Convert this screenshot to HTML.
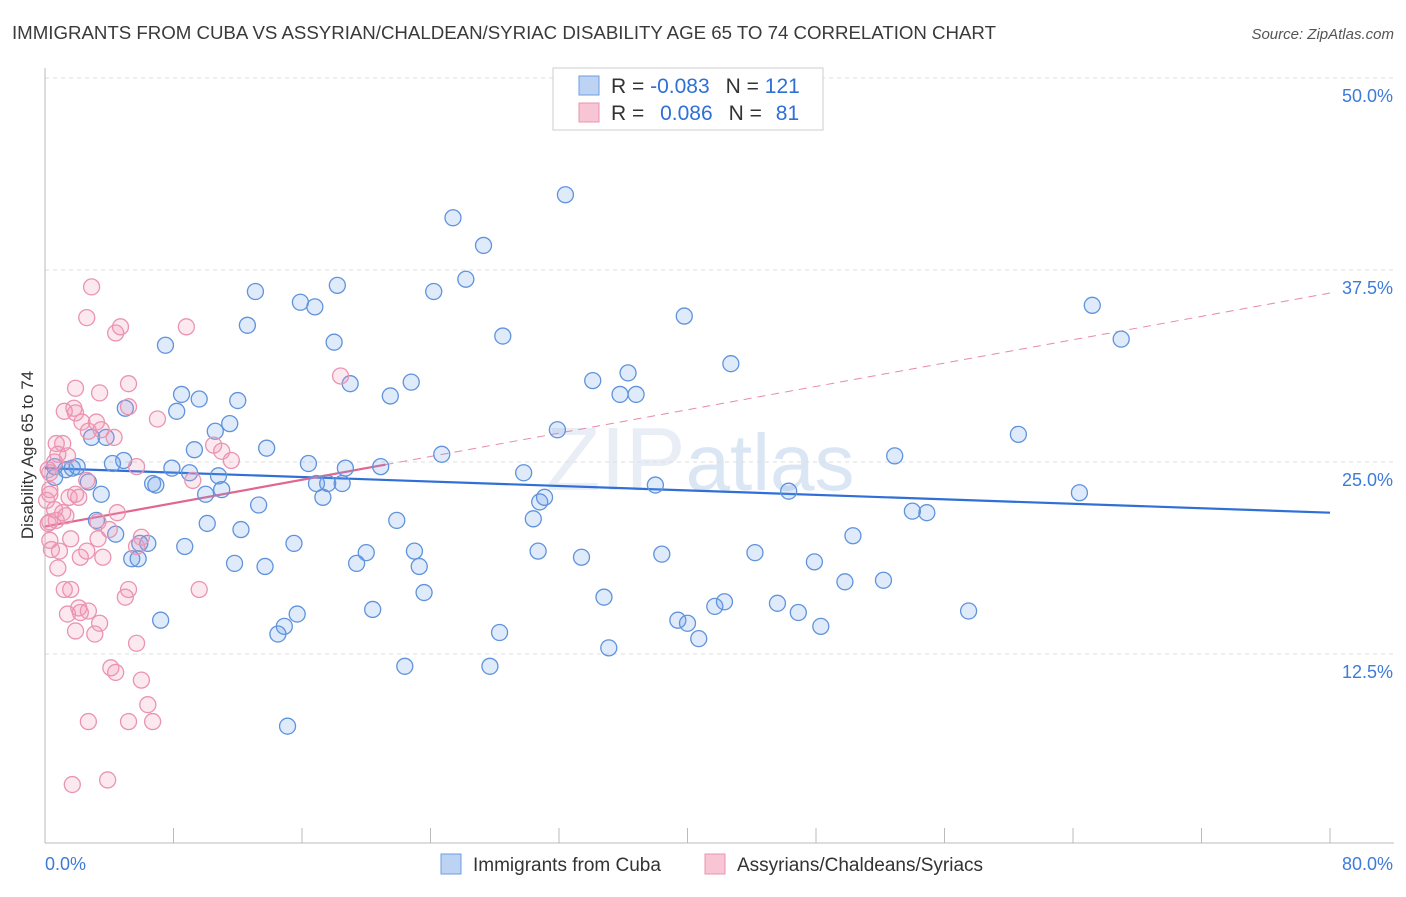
<!DOCTYPE html>
<html><head><meta charset="utf-8"><style>
body{margin:0;background:#fff;font-family:"Liberation Sans",sans-serif;}
svg text{font-family:"Liberation Sans",sans-serif;}
</style></head><body>
<svg id="chart" width="1406" height="892" xmlns="http://www.w3.org/2000/svg">
<text x="12" y="39" font-size="18.7" fill="#3a3a3a" textLength="984">IMMIGRANTS FROM CUBA VS ASSYRIAN/CHALDEAN/SYRIAC DISABILITY AGE 65 TO 74 CORRELATION CHART</text>
<text x="1394" y="39" font-size="15" fill="#555" text-anchor="end" font-style="italic">Source: ZipAtlas.com</text>
<text x="700" y="490" font-size="90" fill="#e9eef6" text-anchor="middle" font-family="Liberation Serif">ZIP<tspan fill="#dbe6f5" font-family="Liberation Sans" font-size="80">atlas</tspan></text>
<g id="grid"></g>
<g id="axes"></g>
<g id="trends"></g>
<g id="pts"></g>
<text transform="translate(33,455) rotate(-90)" font-size="17" fill="#333" text-anchor="middle">Disability Age 65 to 74</text>
<g>
<rect x="553" y="68" width="270" height="62" fill="#fff" stroke="#ccc"/>
<rect x="579" y="76" width="20" height="19" fill="#bcd3f3" stroke="#6e9ee0"/>
<rect x="579" y="103" width="20" height="19" fill="#f8c5d5" stroke="#e994b0"/>
<text x="611" y="93" font-size="21" fill="#333">R = <tspan fill="#2f6fd6">-0.083</tspan><tspan dx="16">N = </tspan><tspan fill="#2f6fd6">121</tspan></text>
<text x="611" y="120" font-size="21" fill="#333">R = <tspan dx="10" fill="#2f6fd6">0.086</tspan><tspan dx="16">N = </tspan><tspan dx="8" fill="#2f6fd6">81</tspan></text>
</g>
<g>
<rect x="441" y="854" width="20" height="20" fill="#bcd3f3" stroke="#6e9ee0"/>
<text x="473" y="871" font-size="19" fill="#333">Immigrants from Cuba</text>
<rect x="705" y="854" width="20" height="20" fill="#f8c5d5" stroke="#e994b0"/>
<text x="737" y="871" font-size="19" fill="#333">Assyrians/Chaldeans/Syriacs</text>
</g>
</svg>
<script>
const blueX=[32.4,25.4,27.3,13.1,26.2,18.2,15.9,16.8,24.2,12.6,39.8,28.5,65.2,67.0,7.5,18.0,42.7,36.3,22.8,19.0,34.1,35.8,36.8,21.5,8.5,9.6,12.0,5.0,8.2,11.5,10.6,31.9,2.9,3.8,60.6,13.8,9.3,24.7,52.9,4.9,4.2,0.6,1.3,1.7,2.0,0.6,2.7,16.4,18.7,20.9,7.9,9.0,10.8,29.8,6.7,6.9,16.9,17.6,18.5,11.0,10.0,3.5,38.0,46.3,64.4,13.3,30.8,31.1,17.3,54.0,54.9,3.2,21.9,30.4,10.1,12.2,4.4,6.4,5.9,15.5,50.3,8.7,30.7,44.2,20.0,23.0,38.4,33.4,5.4,5.8,47.9,11.8,13.7,19.4,23.3,49.8,52.2,23.6,34.8,45.6,42.3,41.7,20.4,15.7,46.9,57.5,7.2,14.9,39.4,40.0,48.3,14.5,28.3,40.7,35.1,22.4,27.7,15.1];
const blueY=[42.4,40.9,39.1,36.1,36.9,36.5,35.4,35.1,36.1,33.9,34.5,33.2,35.2,33.0,32.6,32.8,31.4,30.8,30.2,30.1,30.3,29.4,29.4,29.3,29.4,29.1,29.0,28.5,28.3,27.5,27.0,27.1,26.6,26.6,26.8,25.9,25.8,25.5,25.4,25.1,24.9,24.7,24.5,24.6,24.7,24.0,23.7,24.9,24.6,24.7,24.6,24.3,24.1,24.3,23.6,23.5,23.6,23.6,23.6,23.2,22.9,22.9,23.5,23.1,23.0,22.2,22.4,22.7,22.7,21.8,21.7,21.2,21.2,21.3,21.0,20.6,20.3,19.7,19.7,19.7,20.2,19.5,19.2,19.1,19.1,19.2,19.0,18.8,18.7,18.7,18.5,18.4,18.2,18.4,18.2,17.2,17.3,16.5,16.2,15.8,15.9,15.6,15.4,15.1,15.2,15.3,14.7,14.3,14.7,14.5,14.3,13.8,13.9,13.5,12.9,11.7,11.7,7.8];
const pinkX=[2.9,2.6,4.7,8.8,4.4,18.4,1.9,5.2,3.4,1.2,1.8,1.9,5.2,7.0,2.3,3.2,1.1,0.7,4.3,10.5,2.7,3.5,11.0,11.6,5.7,1.4,0.8,0.6,0.3,2.6,0.3,0.3,1.5,2.1,1.9,0.6,1.1,0.7,0.3,1.3,4.5,3.3,4.0,6.0,0.3,1.6,3.3,0.4,0.9,2.6,2.2,3.6,5.7,0.8,9.2,1.2,1.6,5.2,5.0,9.6,2.1,2.7,1.4,2.2,3.4,1.9,3.1,5.7,4.1,4.4,6.0,6.4,2.7,5.2,6.7,1.7,3.9,0.2,0.1,0.2];
const pinkY=[36.4,34.4,33.8,33.8,33.4,30.6,29.8,30.1,29.5,28.3,28.5,28.2,28.6,27.8,27.6,27.6,26.2,26.2,26.6,26.1,27.0,27.1,25.7,25.1,24.7,25.4,25.5,25.0,24.3,23.8,23.2,22.9,22.7,22.7,22.9,21.9,21.7,21.2,21.1,21.5,21.7,21.1,20.6,20.1,19.9,20.0,20.0,19.3,19.2,19.2,18.8,18.8,19.5,18.1,23.8,16.7,16.7,16.7,16.2,16.7,15.5,15.3,15.1,15.2,14.5,14.0,13.8,13.2,11.6,11.3,10.8,9.2,8.1,8.1,8.1,4.0,4.3,21.0,22.5,24.5];
const yTicks=[12.5,25.0,37.5,50.0];
const yTickLabels=["12.5%","25.0%","37.5%","50.0%"];
const xTicks=[0,8,16,24,32,40,48,56,64,72,80];
const blueTrend=[24.6,21.7];
const pinkTrend=[20.8,36.0];
const pinkSolidEnd=21.2;

const NS="http://www.w3.org/2000/svg";
const X0=45,X1=1330,YB=846,PY=15.36;
const sx=v=>X0+(v/80)*(X1-X0);
const sy=v=>YB-v*PY;
function mk(tag,attrs,parent){const e=document.createElementNS(NS,tag);for(const k in attrs)e.setAttribute(k,attrs[k]);parent.appendChild(e);return e;}
const grid=document.getElementById('grid'),axes=document.getElementById('axes'),trends=document.getElementById('trends'),pts=document.getElementById('pts');
yTicks.forEach((t,i)=>{
  const l=mk('line',{x1:X0,x2:1394,y1:sy(t),y2:sy(t),stroke:'#ddd','stroke-dasharray':'4,4'},grid);
  
  
  const tx=mk('text',{x:1393,y:sy(t)+24,'font-size':18,fill:'#3d7bd9','text-anchor':'end'},axes);
  tx.textContent=yTickLabels[i];
  
  
});
const ya=mk('line',{x1:X0,x2:X0,y1:68,y2:843,stroke:'#bbb'},axes);


const xa=mk('line',{x1:X0,x2:1394,y1:843,y2:843,stroke:'#bbb'},axes);


xTicks.forEach(t=>{
  const l=mk('line',{x1:sx(t),x2:sx(t),y1:828,y2:843,stroke:'#bbb'},axes);
  
  
});
const xl0=mk('text',{x:X0,y:870,'font-size':18,fill:'#3d7bd9'},axes);xl0.textContent=xTicks[0].toFixed(1)+'%';


const xl1=mk('text',{x:1393,y:870,'font-size':18,fill:'#3d7bd9','text-anchor':'end'},axes);xl1.textContent=xTicks[xTicks.length-1].toFixed(1)+'%';



blueX.forEach((x,i)=>{
  const c=mk('circle',{cx:sx(x),cy:sy(blueY[i]),r:8,fill:'rgba(110,160,230,0.22)',stroke:'#5f93dc','stroke-width':1.3},pts);
  
  
});
pinkX.forEach((x,i)=>{
  const c=mk('circle',{cx:sx(x),cy:sy(pinkY[i]),r:8,fill:'rgba(240,150,180,0.22)',stroke:'#ea94b1','stroke-width':1.3},pts);
  
  
});
const pAt=x=>pinkTrend[0]+(pinkTrend[1]-pinkTrend[0])*x/80;
const bl=mk('line',{x1:sx(0),y1:sy(blueTrend[0]),x2:sx(80),y2:sy(blueTrend[1]),stroke:'#2f6fd6','stroke-width':2.2},trends);


const pd=mk('line',{x1:sx(pinkSolidEnd),y1:sy(pAt(pinkSolidEnd)),x2:sx(80),y2:sy(pinkTrend[1]),stroke:'#e88aa8','stroke-width':1,'stroke-dasharray':'8,6'},trends);


const ps=mk('line',{x1:sx(0),y1:sy(pinkTrend[0]),x2:sx(pinkSolidEnd),y2:sy(pAt(pinkSolidEnd)),stroke:'#e0678f','stroke-width':2.2},trends);


</script>
</body></html>
